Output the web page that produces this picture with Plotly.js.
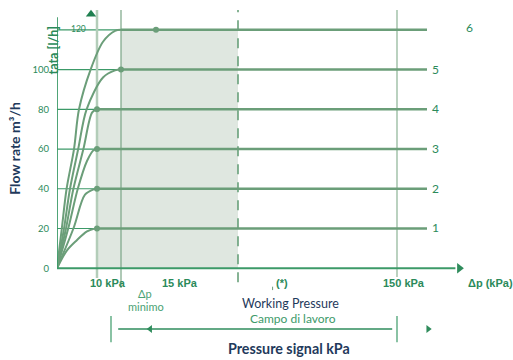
<!DOCTYPE html>
<html>
<head>
<meta charset="utf-8">
<script src="https://cdn.plot.ly/plotly-3.0.1.min.js"></script>
<style>html,body{margin:0;padding:0;background:#fff}#chart{width:513px;height:360px}</style>
</head>
<body>
<div id="chart"></div>
<script>
// ---- data ----
var levels = [20, 40, 60, 80, 100, 120];
var lineLabels = ['1', '2', '3', '4', '5', '6'];
var curveX = [
  [0, 2.5, 4.9, 7.5, 9.2, 10],
  [0, 4.1, 7, 9.2, 10],
  [0, 2.8, 5.2, 7.5, 9.2, 10],
  [0, 2.25, 4.1, 6.6, 8.8, 10],
  [0, 1.75, 3.25, 5.3, 7.4, 11.5, 14.5, 16],
  [0, 1.2, 2.4, 4.25, 5.5, 8.4, 11.5, 14.5, 16]
];
var curveY = [
  [0, 9, 14, 18.5, 19.8, 20],
  [0, 20, 37, 39.7, 40],
  [0, 20, 40, 54, 59.5, 60],
  [0, 20, 40, 60, 78.5, 80],
  [0, 20, 40, 60, 80, 96, 99.6, 100],
  [0, 20, 40, 60, 80, 100, 114, 119.5, 120]
];
var satX = [10, 10, 10, 10, 16, 16];
var lineEndX = 92.5;
var extraDotX = [24.75];
var extraDotY = [120];
var yTickVals = [0, 20, 40, 60, 80, 100];
var yTickText = ['0', '20', '40', '60', '80', '100'];
var topTickLabel = '120';
var shadeX = [10, 10, 16, 16, 45.25, 45.25];
var shadeY = [0, 80, 80, 120, 120, 0];
var xLabels = ['10 kPa', '15 kPa', '(*)', '150 kPa', 'Δp (kPa)'];
var xLabelPos = [12.75, 30.75, 56.3, 86.75, 108.3];
var vLineX = [10, 16, 45.25, 85];

// ---- styling ----
var GREEN = '#2b8a5a';
var LINE = '#6b9e79';
var LIGHT = '#b3cdb9';
var NAVY = '#1f3a5c';
var FONT = 'Lato, "Noto Sans", sans-serif';
var BOLD = '"Liberation Sans", Arial, sans-serif';

var traces = [];
for (var i = 0; i < levels.length; i++) {
  traces.push({x: curveX[i], y: curveY[i], mode: 'lines', type: 'scatter',
    line: {color: LINE, width: 2, shape: 'spline', smoothing: 0.9},
    hoverinfo: 'skip', showlegend: false, cliponaxis: false});
  traces.push({x: [satX[i], lineEndX], y: [levels[i], levels[i]], mode: 'lines', type: 'scatter',
    line: {color: LINE, width: 2.5}, hoverinfo: 'skip', showlegend: false});
}
// saturation dots
var dotX = [], dotY = [];
for (var i = 0; i < levels.length; i++) {
  if (i === 5) continue;
  dotX.push(satX[i]); dotY.push(levels[i]);
}
dotX = dotX.concat(extraDotX); dotY = dotY.concat(extraDotY);
traces.push({x: dotX, y: dotY, mode: 'markers', type: 'scatter',
  marker: {color: LINE, size: 6}, hoverinfo: 'skip', showlegend: false});
// axis arrowheads
traces.push({x: [100.6], y: [0], mode: 'markers', type: 'scatter',
  marker: {symbol: 'triangle-right', color: '#2f8c5c', size: 9}, hoverinfo: 'skip', showlegend: false, cliponaxis: false});
traces.push({x: [8.5], y: [127.9], mode: 'markers', type: 'scatter',
  marker: {symbol: 'triangle-up', color: '#1f8050', size: 9}, hoverinfo: 'skip', showlegend: false, cliponaxis: false});
// bottom range arrowheads
traces.push({x: [23.3], y: [-30.6], mode: 'markers', type: 'scatter',
  marker: {symbol: 'triangle-left', color: '#2f8c5c', size: 7}, hoverinfo: 'skip', showlegend: false, cliponaxis: false});
traces.push({x: [92.8], y: [-30.6], mode: 'markers', type: 'scatter',
  marker: {symbol: 'triangle-right', color: '#2f8c5c', size: 7}, hoverinfo: 'skip', showlegend: false, cliponaxis: false});

var shapes = [];
// shaded working zone
var p = 'M' + shadeX[0] + ',' + shadeY[0];
for (var k = 1; k < shadeX.length; k++) p += ' L' + shadeX[k] + ',' + shadeY[k];
p += ' Z';
shapes.push({type: 'path', path: p, xref: 'x', yref: 'y', fillcolor: '#dfe7e0', line: {width: 0}, layer: 'below'});
// thin grid lines
for (var i = 0; i < levels.length; i++) {
  shapes.push({type: 'line', xref: 'x', yref: 'y', x0: 0, x1: satX[i], y0: levels[i], y1: levels[i],
    line: {color: '#3c9a68', width: 1.2}, layer: 'below'});
}
// vertical lines
shapes.push({type: 'line', x0: vLineX[0], x1: vLineX[0], y0: -4.9, y1: 130, line: {color: LIGHT, width: 2.5}, layer: 'below'});
shapes.push({type: 'line', x0: vLineX[1], x1: vLineX[1], y0: -10, y1: 130, line: {color: '#7aa585', width: 1.2}, layer: 'below'});
shapes.push({type: 'line', x0: vLineX[2], x1: vLineX[2], y0: -7, y1: 130, line: {color: '#5f9a72', width: 1.5, dash: '10px,8px'}, layer: 'below'});
shapes.push({type: 'line', x0: vLineX[3], x1: vLineX[3], y0: -4.4, y1: 130, line: {color: LIGHT, width: 1.8}, layer: 'below'});
// axes
shapes.push({type: 'line', x0: 0, x1: 99.6, y0: 0, y1: 0, line: {color: '#3c9a68', width: 1.8}});
shapes.push({type: 'line', x0: 0, x1: 0, y0: 0, y1: 126.4, line: {color: '#3c9a68', width: 1.8}});
// small mark near (*)
shapes.push({type: 'line', x0: 53.9, x1: 53.9, y0: -9.3, y1: -11, line: {color: '#6b9e79', width: 1}});
// bottom range line
shapes.push({type: 'line', x0: 15.3, x1: 83.8, y0: -30.6, y1: -30.6, line: {color: '#2f8c5c', width: 1.3}});
shapes.push({type: 'line', x0: 13.5, x1: 13.5, y0: -24.1, y1: -37.3, line: {color: '#3c9a68', width: 1.2}});
shapes.push({type: 'line', x0: 85, x1: 85, y0: -24.1, y1: -37.3, line: {color: '#3c9a68', width: 1.2}});

var ann = [];
function A(text, x, y, size, color, fam, extra) {
  var o = {text: text, x: x, y: y, xref: 'x', yref: 'y', showarrow: false,
    font: {size: size, color: color, family: fam}, xanchor: 'center', yanchor: 'middle'};
  for (var k in (extra || {})) o[k] = extra[k];
  ann.push(o);
}
for (var i = 0; i < 5; i++) A(lineLabels[i], 94.5, levels[i] + 0.3, 12, GREEN, FONT);
A(lineLabels[5], 103.1, levels[5] + 1, 12, GREEN, FONT);
A(topTickLabel, 5.3, 120.5, 8.5, GREEN, FONT);
A('<b>tata [l/h]</b>', -0.008, 109.8, 12.5, GREEN, FONT, {textangle: -90, xref: 'paper'});
for (var j = 0; j < xLabels.length; j++) A('<b>' + xLabels[j] + '</b>', xLabelPos[j], -7.6, 11, GREEN, BOLD);
A('Δp', 22, -12.6, 11, '#4aa274', FONT);
A('minimo', 22.3, -19.1, 11, '#4aa274', FONT);
A('Working Pressure', 58.3, -17.6, 12.5, NAVY, FONT);
A('Campo di lavoro', 59, -25.2, 12, '#3d9a6a', FONT);
A('<b>Pressure signal kPa</b>', 58, -40.2, 14.3, NAVY, FONT);
A('<b>Flow rate m³/h</b>', -0.095, 60.5, 14, NAVY, FONT, {textangle: -90, xref: 'paper'});

var layout = {
  width: 513, height: 360,
  margin: {l: 57, r: 0, t: 10, b: 0},
  paper_bgcolor: '#ffffff', plot_bgcolor: 'rgba(0,0,0,0)',
  showlegend: false,
  xaxis: {range: [0, 114], showgrid: false, zeroline: false, showline: false,
    showticklabels: false, ticks: '', fixedrange: true},
  yaxis: {range: [-46.2, 130], showgrid: false, zeroline: false, showline: false,
    tickvals: yTickVals, ticktext: yTickText, ticks: 'outside', ticklen: 5,
    tickcolor: 'rgba(0,0,0,0)', tickfont: {size: 9.5, color: GREEN, family: FONT}, fixedrange: true},
  shapes: shapes,
  annotations: ann
};
Plotly.newPlot('chart', traces, layout, {displayModeBar: false, staticPlot: true});
</script>
</body>
</html>
